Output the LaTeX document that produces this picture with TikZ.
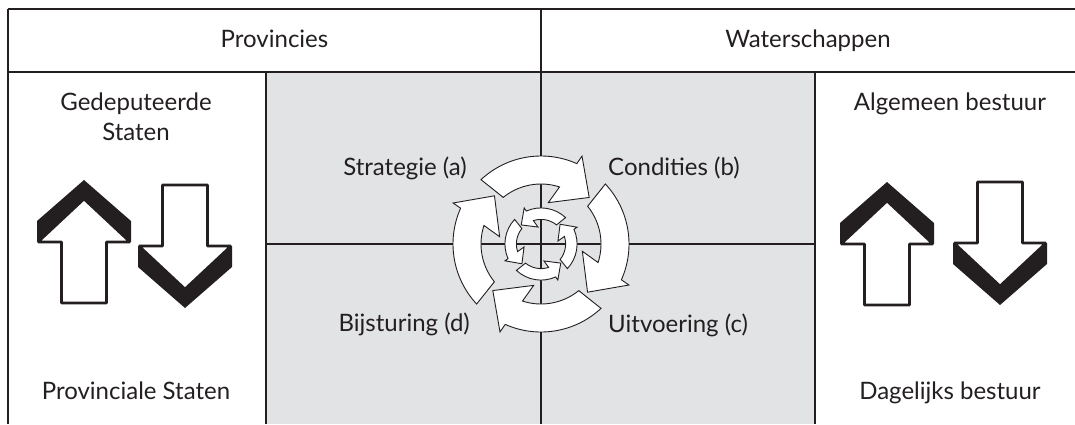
\documentclass[tikz,border=0pt]{standalone}
\usepackage{fontspec}
\setmainfont{Lato}
\definecolor{ink}{RGB}{35,31,32}
\definecolor{panel}{RGB}{226,227,229}
\begin{document}
\begin{tikzpicture}[x=1pt,y=-1pt,
  rule/.style={draw=ink, line width=1.4pt},
  txt/.style={font=\fontsize{24}{29}\selectfont, text=ink, inner sep=0pt},
  cyc/.style={draw=ink, fill=white, line width=0.9pt, line join=miter},
  % block arrow pointing up, origin at the centre of the head base
  blockarrow/.pic={
    \fill[ink] (-47,0) -- (-47,-21) -- (0,-62) -- (47,-21) -- (47,0) -- cycle;
    \draw[ink, line width=2.6pt, fill=white, line join=bevel]
      (0,-43) -- (-46,0) -- (-22.5,0) -- (-22.5,61) -- (22.5,61) -- (22.5,0) -- (46,0) -- cycle;
  },
  % one curved arrow of the cycle
  cycarrow/.pic={
    \draw[cyc] (133:88) arc[start angle=133, end angle=66, radius=88]
      -- (65:97) -- (44:67) -- (80:42) -- (72:60)
      arc[start angle=72, end angle=129, radius=60] -- cycle;
  }]
\useasboundingbox (0,0) rectangle (1075,424);

% grey quadrant panel
\fill[panel] (266,72) rectangle (815,424);

% table rules
\draw[rule] (8,9) -- (1075,9);
\draw[rule] (8,72) -- (1075,72);
\draw[rule] (8,9) -- (8,424);
\draw[rule] (541,9) -- (541,424);
\draw[rule] (266,72) -- (266,424);
\draw[rule] (815,72) -- (815,424);
\draw[rule] (266,244) -- (815,244);

% headers
\node[txt, anchor=base] (prov) at (274.5,47) {Provincies};
\node[txt, anchor=base] (water) at (808,47) {Waterschappen};

% side labels
\node[txt, anchor=base] (gs1) at (136,110) {Gedeputeerde};
\node[txt, anchor=base] (gs2) at (136,140) {Staten};
\node[txt, anchor=base] (ps) at (136,399) {Provinciale Staten};
\node[txt, anchor=base] (ab) at (950,110) {Algemeen bestuur};
\node[txt, anchor=base] (db) at (950,399) {Dagelijks bestuur};

% quadrant labels
\node[txt, anchor=base east] (qa) at (467,175) {Strategie (a)};
\node[txt, anchor=base west] (qb) at (608,175) {Condities (b)};
\node[txt, anchor=base west] (qc) at (608,332) {Uitvoering (c)};
\node[txt, anchor=base east] (qd) at (470,331) {Bijsturing (d)};

% up and down block arrows
\pic at (84,242) {blockarrow};
\pic[yscale=-1] at (185,246) {blockarrow};
\pic at (887,244) {blockarrow};
\pic[yscale=-1] at (1000,243) {blockarrow};

% cycle of curved arrows: outer ring clockwise, inner ring counter-clockwise
\begin{scope}[shift={(541,244)}]
  \foreach \r in {0,90,180,270}
    \pic[rotate=\r, xscale=-1] at (0,0) {cycarrow};
  \foreach \r in {0,90,180,270}
    \pic[rotate=\r, scale=0.41] at (0,0) {cycarrow};
\end{scope}
\end{tikzpicture}
\end{document}
